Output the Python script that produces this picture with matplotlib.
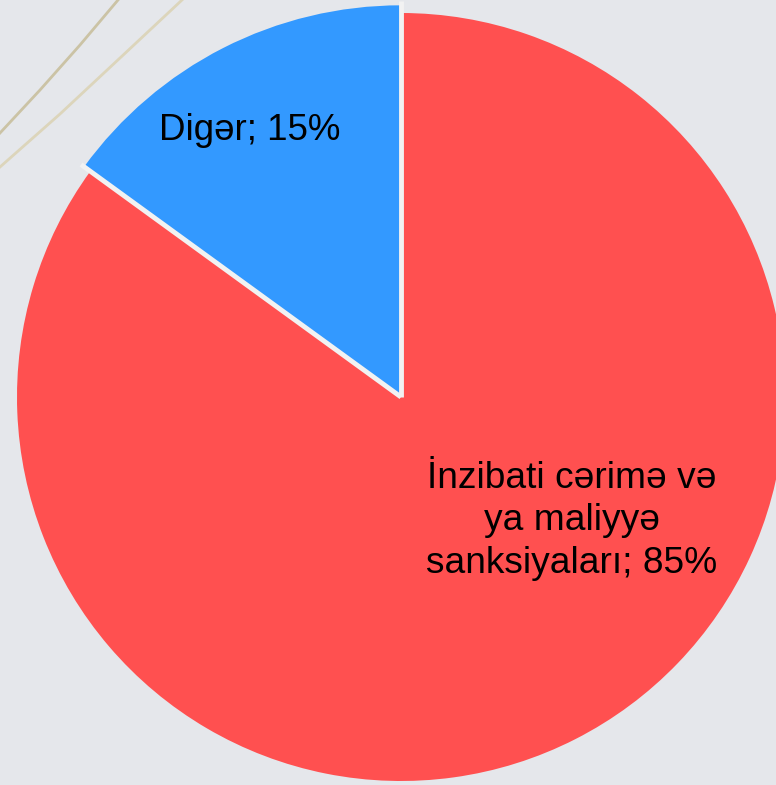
import numpy as np
import matplotlib.pyplot as plt

labels = ['Digər', 'İnzibati cərimə və\nya maliyyə\nsanksiyaları']
shares = [15, 85]
colors = ['#3399FF', '#FF5050']

# decorative lines in the top left corner (pixel coords)
deco_x = [[0, 40, 80, 118], [0, 60, 120, 182]]
deco_y = [[133, 90, 45, 0], [167, 114, 58, 0]]

W, H = 776, 785
cx, cy, R = 401, 397, 384

fig = plt.figure(figsize=(W / 100, H / 100), dpi=100)
fig.patch.set_facecolor('#E5E7EB')
ax = fig.add_axes([0, 0, 1, 1])
ax.set_facecolor('#E5E7EB')

wedges, _ = ax.pie(shares, colors=colors, startangle=90, counterclock=True,
                   radius=R, center=(cx, H - cy),
                   wedgeprops=dict(linewidth=0))
wedges[0].set_radius(R * 1.02)

# white separators between the slices
ang = 90
for s in shares:
    a = np.deg2rad(ang)
    ax.plot([cx, cx + R * 1.03 * np.cos(a)], [H - cy, H - cy + R * 1.03 * np.sin(a)],
            color='#F2F2F2', lw=3.5, solid_capstyle='butt', zorder=3)
    ang += 360 * s / sum(shares)

for xs, ys, c in zip(deco_x, deco_y, ['#cbc3a5', '#dcd5bb']):
    ax.plot(xs, [H - y for y in ys], color=c, lw=2, zorder=0)

ax.text(250, H - 130, f'{labels[0]}; {shares[0]}%', ha='center', va='center',
        fontsize=26.5, family='Liberation Sans', color='black', zorder=4)
ax.text(572, H - 521, f'{labels[1]}; {shares[1]}%', ha='center', va='center',
        fontsize=26.7, family='Liberation Sans', color='black', linespacing=1.28,
        zorder=4)

ax.set_xlim(0, W)
ax.set_ylim(0, H)
ax.set_aspect('auto')
ax.axis('off')

fig.savefig('out.png', dpi=100, facecolor=fig.get_facecolor())
